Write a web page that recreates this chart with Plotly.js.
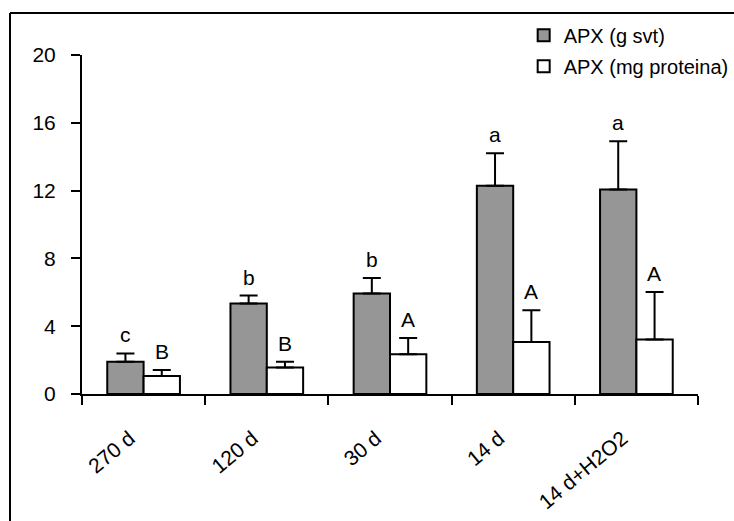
<!DOCTYPE html>
<html>
<head>
<meta charset="utf-8">
<script src="https://cdn.plot.ly/plotly-3.0.1.min.js"></script>
<style>html,body{margin:0;padding:0;background:#fff;}#chart{width:734px;height:521px;}</style>
</head>
<body>
<div id="chart"></div>
<script>
const categories = ["270 d", "120 d", "30 d", "14 d", "14 d+H2O2"];
const apxGSvt = [1.91, 5.34, 5.93, 12.29, 12.07];
const apxGSvtErr = [0.48, 0.47, 0.92, 1.91, 2.84];
const apxMgProt = [1.06, 1.56, 2.34, 3.07, 3.21];
const apxMgProtErr = [0.36, 0.35, 0.96, 1.87, 2.81];
const lettersGSvt = ["c", "b", "b", "a", "a"];
const lettersMgProt = ["B", "B", "A", "A", "A"];
const seriesNames = ["APX (g svt)", "APX (mg proteina)"];
const yTicks = [0, 4, 8, 12, 16, 20];

const FONT = "Liberation Sans, Arial, sans-serif";
const FS = 21;
const zeros = categories.map(() => 0);

const traces = [
  {
    type: "bar", name: seriesNames[0], x: categories, y: apxGSvt,
    legendgroup: "g1",
    marker: {color: "#969696", line: {color: "#000", width: 2}},
    error_y: {type: "data", array: apxGSvtErr, arrayminus: zeros, symmetric: false,
              color: "#000", thickness: 2, width: 9},
    hoverinfo: "skip"
  },
  {
    type: "bar", name: seriesNames[1], x: categories, y: apxMgProt,
    legendgroup: "g2",
    marker: {color: "#ffffff", line: {color: "#000", width: 2}},
    error_y: {type: "data", array: apxMgProtErr, arrayminus: zeros, symmetric: false,
              color: "#000", thickness: 2, width: 9},
    hoverinfo: "skip"
  }
];

const annotations = [];
categories.forEach((c, i) => {
  annotations.push({x: c, y: apxGSvt[i] + apxGSvtErr[i], xref: "x", yref: "y",
    text: lettersGSvt[i], showarrow: false, xshift: -18, yshift: 5, yanchor: "bottom",
    font: {family: FONT, size: FS, color: "#000"}});
  annotations.push({x: c, y: apxMgProt[i] + apxMgProtErr[i], xref: "x", yref: "y",
    text: lettersMgProt[i], showarrow: false, xshift: 18, yshift: 5, yanchor: "bottom",
    font: {family: FONT, size: FS, color: "#000"}});
});

const layout = {
  width: 734, height: 521,
  margin: {l: 82, r: 36, t: 55, b: 127, pad: 0, autoexpand: false},
  paper_bgcolor: "#fff", plot_bgcolor: "#fff",
  font: {family: FONT, size: FS, color: "#000"},
  barmode: "group", bargap: 0.41, bargroupgap: 0,
  showlegend: true,
  legend: {x: 0.717, y: 1.116, xanchor: "left", yanchor: "top",
    font: {family: FONT, size: 20, color: "#000"},
    bgcolor: "rgba(0,0,0,0)", borderwidth: 0,
    traceorder: "grouped", tracegroupgap: 2},
  xaxis: {
    type: "category", range: [-0.5, 4.5], tickson: "boundaries",
    showline: true, linecolor: "#000", linewidth: 2,
    ticks: "outside", ticklen: 9, tickwidth: 2, tickcolor: "#000",
    tickangle: -40, showgrid: false, zeroline: false, automargin: false,
    tickfont: {family: FONT, size: FS, color: "#000"},
    ticklabelstandoff: 22, ticklabelshift: -14, fixedrange: true
  },
  yaxis: {
    range: [0, 20], tickvals: yTicks, ticktext: yTicks.map(String),
    showline: true, linecolor: "#000", linewidth: 2,
    ticks: "outside", ticklen: 9, tickwidth: 2, tickcolor: "#000",
    showgrid: false, zeroline: false, automargin: false,
    tickfont: {family: FONT, size: FS, color: "#000"},
    ticklabelstandoff: 11, fixedrange: true
  },
  shapes: [
    {type: "line", xref: "paper", yref: "paper", x0: (10 - 82) / 616, x1: (760 - 82) / 616,
     y0: (394 - 13) / 339, y1: (394 - 13) / 339, line: {color: "#000", width: 2}},
    {type: "line", xref: "paper", yref: "paper", x0: (10 - 82) / 616, x1: (10 - 82) / 616,
     y0: (394 - 13) / 339, y1: (394 - 560) / 339, line: {color: "#000", width: 2}}
  ],
  annotations: annotations
};

Plotly.newPlot("chart", traces, layout, {displayModeBar: false, staticPlot: true});
</script>
</body>
</html>
